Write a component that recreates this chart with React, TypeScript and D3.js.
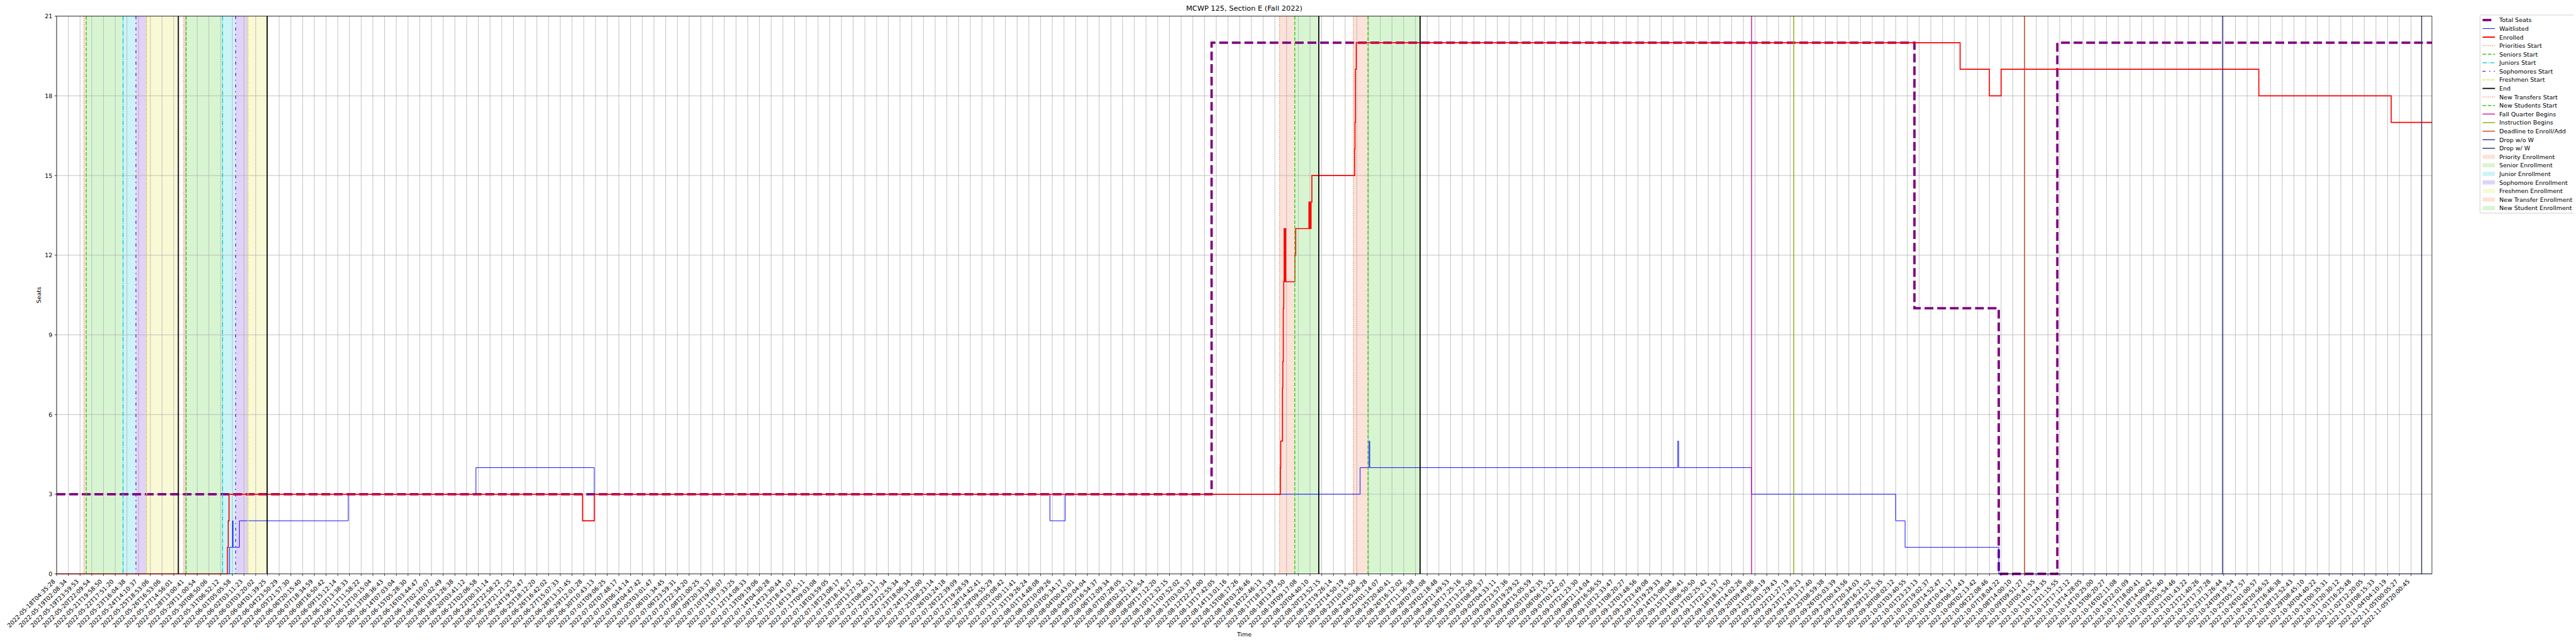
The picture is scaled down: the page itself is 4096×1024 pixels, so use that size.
import React from "react";
import * as d3 from "d3";

// ---------- DATA ----------
const title = "MCWP 125, Section E (Fall 2022)";
const xLabel = "Time";
const yLabel = "Seats";
const yTicks = [0, 3, 6, 9, 12, 15, 18, 21];

const tickLabels = [
  "2022-05-18T04:35:28","2022-05-19T02:08:34","2022-05-19T23:59:53","2022-05-20T22:09:54","2022-05-21T19:58:50",
  "2022-05-22T17:51:20","2022-05-23T16:04:38","2022-05-24T14:10:37","2022-05-25T18:53:06","2022-05-26T16:53:06",
  "2022-05-27T14:56:01","2022-05-28T13:00:41","2022-05-29T11:00:54","2022-05-30T08:50:06","2022-05-31T06:52:12",
  "2022-06-01T05:05:58","2022-06-02T03:11:23","2022-06-03T03:20:02","2022-06-04T01:39:25","2022-06-04T23:50:29",
  "2022-06-05T21:57:30","2022-06-06T20:15:40","2022-06-07T18:34:59","2022-06-08T16:50:42","2022-06-09T15:12:14",
  "2022-06-10T13:38:33","2022-06-11T11:58:22","2022-06-12T10:15:04","2022-06-13T08:36:43","2022-06-14T07:03:04",
  "2022-06-15T05:28:30","2022-06-16T03:44:47","2022-06-17T02:10:07","2022-06-18T01:02:49","2022-06-18T23:26:38",
  "2022-06-20T03:41:12","2022-06-21T02:06:58","2022-06-22T00:31:14","2022-06-22T22:58:22","2022-06-23T21:21:25",
  "2022-06-24T19:52:47","2022-06-25T18:12:20","2022-06-26T16:42:02","2022-06-27T15:07:33","2022-06-28T13:31:45",
  "2022-06-29T12:01:28","2022-06-30T10:43:13","2022-07-01T09:06:25","2022-07-02T07:48:17","2022-07-03T06:14:14",
  "2022-07-04T04:47:42","2022-07-05T03:01:47","2022-07-06T01:34:45","2022-07-06T23:59:31","2022-07-07T22:34:20",
  "2022-07-08T21:00:25","2022-07-09T20:33:37","2022-07-10T19:06:07","2022-07-11T17:33:25","2022-07-12T14:08:33",
  "2022-07-13T09:19:06","2022-07-14T04:30:28","2022-07-14T23:30:44","2022-07-15T18:41:07","2022-07-16T13:45:11",
  "2022-07-17T09:03:08","2022-07-18T03:59:05","2022-07-18T23:08:17","2022-07-19T18:16:27","2022-07-20T13:27:52",
  "2022-07-21T08:40:11","2022-07-22T03:37:34","2022-07-22T22:55:34","2022-07-23T18:06:34","2022-07-24T13:12:00",
  "2022-07-25T08:23:14","2022-07-26T03:24:18","2022-07-26T22:39:09","2022-07-27T19:28:59","2022-07-28T14:42:41",
  "2022-07-29T09:55:29","2022-07-30T05:08:42","2022-07-31T00:11:41","2022-07-31T19:26:24","2022-08-01T14:48:08",
  "2022-08-02T10:09:26","2022-08-03T05:34:17","2022-08-04T00:43:01","2022-08-04T20:04:04","2022-08-05T16:54:37",
  "2022-08-06T12:09:34","2022-08-07T07:28:05","2022-08-08T02:32:13","2022-08-08T21:46:54","2022-08-09T17:12:20",
  "2022-08-10T12:32:15","2022-08-11T07:52:02","2022-08-12T03:03:37","2022-08-12T22:24:00","2022-08-13T17:42:05",
  "2022-08-14T13:01:16","2022-08-15T08:17:26","2022-08-16T03:26:46","2022-08-16T22:46:13","2022-08-17T18:23:39",
  "2022-08-18T13:47:50","2022-08-19T09:17:08","2022-08-20T04:40:10","2022-08-20T23:52:15","2022-08-21T19:26:14",
  "2022-08-22T14:50:19","2022-08-23T10:15:50","2022-08-24T05:58:28","2022-08-25T01:14:07","2022-08-25T20:40:41",
  "2022-08-26T16:12:02","2022-08-27T11:36:38","2022-08-28T07:03:08","2022-08-29T02:18:48","2022-08-29T21:49:53",
  "2022-08-30T17:25:16","2022-08-31T13:22:50","2022-09-01T08:58:37","2022-09-02T04:33:11","2022-09-02T23:57:36",
  "2022-09-03T19:29:52","2022-09-04T15:05:59","2022-09-05T10:42:35","2022-09-06T06:15:22","2022-09-07T01:42:07",
  "2022-09-07T21:23:30","2022-09-08T21:14:04","2022-09-09T16:56:55","2022-09-10T12:33:47","2022-09-11T08:20:27",
  "2022-09-12T03:48:56","2022-09-12T23:49:08","2022-09-13T19:29:33","2022-09-14T15:08:04","2022-09-15T11:06:41",
  "2022-09-16T06:50:50","2022-09-17T02:25:42","2022-09-17T22:13:57","2022-09-18T18:13:50","2022-09-19T14:02:26",
  "2022-09-20T09:49:06","2022-09-21T05:38:19","2022-09-22T01:29:43","2022-09-22T21:27:19","2022-09-23T17:28:23",
  "2022-09-24T13:17:40","2022-09-25T08:59:38","2022-09-26T05:03:39","2022-09-27T00:43:56","2022-09-27T20:34:03",
  "2022-09-28T16:21:52","2022-09-29T12:15:35","2022-09-30T08:02:12","2022-10-01T03:40:55","2022-10-01T23:23:13",
  "2022-10-02T19:02:37","2022-10-03T14:52:47","2022-10-04T10:41:17","2022-10-05T06:34:43","2022-10-06T02:13:42",
  "2022-10-06T22:08:46","2022-10-07T18:04:22","2022-10-08T14:00:10","2022-10-09T09:51:27","2022-10-10T05:41:55",
  "2022-10-11T01:24:35","2022-10-11T21:15:55","2022-10-12T17:12:12","2022-10-13T14:28:05","2022-10-14T10:25:00",
  "2022-10-15T06:20:27","2022-10-16T02:11:08","2022-10-16T22:01:09","2022-10-17T18:00:41","2022-10-18T14:00:42",
  "2022-10-19T09:55:40","2022-10-20T05:54:46","2022-10-21T01:43:22","2022-10-21T21:40:26","2022-10-22T17:37:28",
  "2022-10-23T13:26:44","2022-10-24T09:19:54","2022-10-25T05:17:57","2022-10-26T01:00:57","2022-10-26T20:56:52",
  "2022-10-27T16:46:38","2022-10-28T12:52:43","2022-10-29T08:45:10","2022-10-30T04:40:22","2022-10-31T00:35:31",
  "2022-10-31T20:30:12","2022-11-01T16:25:48","2022-11-02T12:20:05","2022-11-03T08:15:33","2022-11-04T04:10:19",
  "2022-11-05T00:05:27","2022-11-05T20:00:45"
];

// x positions are in tick-index units (tick i sits at i)
const X_MAX = 202.78;

const totalSeats = [[0, 3], [98.6, 20], [158.6, 10], [165.8, 0], [170.8, 20], [X_MAX, 20]];

const waitlisted = [
  [0, 0], [14.75, 1], [15.02, 2], [15.07, 1], [15.6, 2], [24.9, 3], [35.8, 4], [45.9, 3],
  [84.8, 2], [86.1, 3], [111.28, 4], [112.05, 5], [112.1, 4], [138.4, 5], [138.47, 4],
  [144.7, 3], [157.0, 2], [157.8, 1], [165.8, 0], [X_MAX, 0]
];

const enrolled = [
  [0, 0], [14.58, 1], [14.65, 2], [14.72, 3], [44.9, 2], [45.9, 3],
  [104.47, 4], [104.5, 5], [104.65, 7], [104.68, 8], [104.72, 10], [104.76, 11], [104.79, 13],
  [104.82, 11], [104.85, 13], [104.88, 11], [104.9, 13], [104.93, 11], [105.71, 12], [105.78, 13],
  [106.91, 14], [106.94, 13], [106.98, 14], [107.0, 13], [107.09, 14], [107.16, 15],
  [110.81, 16], [110.84, 17], [110.88, 19], [110.95, 20], [162.5, 19], [165.0, 18], [166.0, 19],
  [188.0, 18], [199.3, 17], [X_MAX, 17]
];

const prioritiesStart = [2.33, 10.84];
const seniorsStart = [2.53, 11.06];
const juniorsStart = [5.67, 14.16];
const sophomoresStart = [6.77, 15.28];
const freshmenStart = [7.69, 16.34];
const endTimes = [10.39, 17.97, 107.75, 116.4];
const newTransfersStart = [104.4, 110.7];
const newStudentsStart = [105.7, 111.95];
const fallQuarterBegins = [144.7];
const instructionBegins = [148.3];
const deadlineEnrollAdd = [168.0];
const dropWithoutW = [184.9];
const dropWithW = [201.9];

const legendLabels = [
  "Total Seats", "Waitlisted", "Enrolled", "Priorities Start", "Seniors Start", "Juniors Start",
  "Sophomores Start", "Freshmen Start", "End", "New Transfers Start", "New Students Start",
  "Fall Quarter Begins", "Instruction Begins", "Deadline to Enroll/Add", "Drop w/o W", "Drop w/ W",
  "Priority Enrollment", "Senior Enrollment", "Junior Enrollment", "Sophomore Enrollment",
  "Freshmen Enrollment", "New Transfer Enrollment", "New Student Enrollment"
];

// ---------- STYLE / LAYOUT ----------
const S = 0.682;
const W = 4092, H = 1023;
const FONT = "DejaVu Sans";
const fs = 13.89 * S;
const left = 132 * S, right = 5670 * S, top = 37.7 * S, bottom = 1338 * S;

const C = {
  total: "#800080", wait: "#0000ff", enr: "#ff0000",
  prio: "#f26c3a", senior: "#3ccc1c", junior: "#00c8d7", soph: "#6a1fd6", fresh: "#e0e030",
  end: "#000000", fall: "#cc1a99", instr: "#8faa0d", deadline: "#cc4422", dropNoW: "#33338a", dropW: "#2e3856",
};
const lw = 2.08 * S;
const dash = (...a: number[]) => a.map((v) => v * S).join(" ");
const ev = {
  prio: { c: C.prio, w: 1.8 * S, d: dash(1.7, 2.8) },
  senior: { c: C.senior, w: 2.2 * S, d: dash(8.5, 3.7) },
  junior: { c: C.junior, w: 2.0 * S, d: dash(10.5, 2.6, 1.7, 2.6) },
  soph: { c: C.soph, w: 2.0 * S, d: dash(7, 8.5, 2.5, 8.5) },
  fresh: { c: C.fresh, w: 2.0 * S, d: dash(5, 1.8, 1.6, 1.8) },
  end: { c: C.end, w: 2.6 * S, d: null },
  fall: { c: C.fall, w: lw, d: null },
  instr: { c: C.instr, w: lw, d: null },
  deadline: { c: C.deadline, w: lw, d: null },
  dropNoW: { c: C.dropNoW, w: lw, d: null },
  dropW: { c: C.dropW, w: lw, d: null },
};

export default function App() {
  const x = d3.scaleLinear().domain([0, X_MAX]).range([left, right]);
  const y = d3.scaleLinear().domain([0, 21]).range([bottom, top]);
  const line = d3.line<number[]>().x((d) => x(d[0])).y((d) => y(d[1])).curve(d3.curveStepAfter);

  const spans: [number[], number[], string][] = [
    [prioritiesStart, seniorsStart, C.prio],
    [seniorsStart, juniorsStart, C.senior],
    [juniorsStart, sophomoresStart, C.junior],
    [sophomoresStart, freshmenStart, C.soph],
    [freshmenStart, [endTimes[0], endTimes[1]], C.fresh],
    [newTransfersStart, newStudentsStart, C.prio],
    [newStudentsStart, [endTimes[2], endTimes[3]], C.senior],
  ];

  const vlines: [number[], any][] = [
    [prioritiesStart, ev.prio], [seniorsStart, ev.senior], [juniorsStart, ev.junior],
    [sophomoresStart, ev.soph], [freshmenStart, ev.fresh], [endTimes, ev.end],
    [newTransfersStart, ev.prio], [newStudentsStart, ev.senior], [fallQuarterBegins, ev.fall],
    [instructionBegins, ev.instr], [deadlineEnrollAdd, ev.deadline], [dropWithoutW, ev.dropNoW],
    [dropWithW, ev.dropW],
  ];

  const enrW = 2.4 * S;
  const legendStyles: any[] = [
    { t: "line", c: C.total, w: 5.56 * S, d: dash(20.5, 8.9) },
    { t: "line", c: C.wait, w: 1.39 * S, d: null },
    { t: "line", c: C.enr, w: 2.78 * S, d: null },
    { t: "line", ...ev.prio }, { t: "line", ...ev.senior }, { t: "line", ...ev.junior },
    { t: "line", ...ev.soph }, { t: "line", ...ev.fresh }, { t: "line", ...ev.end },
    { t: "line", ...ev.prio }, { t: "line", ...ev.senior }, { t: "line", ...ev.fall },
    { t: "line", ...ev.instr }, { t: "line", ...ev.deadline }, { t: "line", ...ev.dropNoW },
    { t: "line", ...ev.dropW },
    { t: "patch", c: C.prio }, { t: "patch", c: C.senior }, { t: "patch", c: C.junior },
    { t: "patch", c: C.soph }, { t: "patch", c: C.fresh }, { t: "patch", c: C.prio },
    { t: "patch", c: C.senior },
  ];

  const lgLeft = 5782 * S, lgTop = 35 * S, lgRow = 19.93 * S, lgFirst = 46.7 * S;
  const hx0 = 5788 * S, hx1 = 5817 * S, tx = 5827 * S;

  const tickLen = 4.86 * S;
  const labTopY = bottom + 9.72 * S;
  const thin = 0.8 * 1.389 * S;

  return (
    <svg width={W} height={H} viewBox={`0 0 ${W} ${H}`}
      style={{ position: "absolute", left: 0, top: 0, background: "#fff" }}
      fontFamily={FONT}>
      <rect x={0} y={0} width={W} height={H} fill="#ffffff" />
      {/* spans */}
      {spans.map(([a, b, c], i) =>
        a.map((v, j) => (
          <rect key={`s${i}-${j}`} x={x(v)} y={top} width={x(b[j]) - x(v)} height={bottom - top}
            fill={c} fillOpacity={0.2} />
        ))
      )}
      {/* grid */}
      {tickLabels.map((_, i) => (
        <line key={`gx${i}`} x1={x(i)} x2={x(i)} y1={top} y2={bottom} stroke="#b0b0b0" strokeWidth={thin} />
      ))}
      {yTicks.map((t) => (
        <line key={`gy${t}`} x1={left} x2={right} y1={y(t)} y2={y(t)} stroke="#b0b0b0" strokeWidth={thin} />
      ))}
      {/* series */}
      <path d={line(totalSeats) || ""} fill="none" stroke={C.total} strokeWidth={5.56 * S}
        strokeDasharray={dash(20.5, 8.9)} />
      <path d={line(waitlisted) || ""} fill="none" stroke={C.wait} strokeWidth={1.39 * S} />
      <path d={line(enrolled) || ""} fill="none" stroke={C.enr} strokeWidth={enrW} />
      {/* event lines */}
      {vlines.map(([arr, st], i) =>
        arr.map((v, j) => (
          <line key={`v${i}-${j}`} x1={x(v)} x2={x(v)} y1={top} y2={bottom} stroke={st.c}
            strokeWidth={st.w} strokeDasharray={st.d || undefined} />
        ))
      )}
      {/* frame */}
      <rect x={left} y={top} width={right - left} height={bottom - top} fill="none" stroke="#000" strokeWidth={thin} />
      {/* x ticks */}
      {tickLabels.map((lab, i) => {
        const tx0 = x(i);
        const px = tx0 - 2.3 * S;
        const py = labTopY + 9.1 * S;
        return (
          <g key={`xt${i}`}>
            <line x1={tx0} x2={tx0} y1={bottom} y2={bottom + tickLen} stroke="#000" strokeWidth={thin} />
            <text x={px} y={py} fontSize={fs} textAnchor="end" transform={`rotate(-45 ${px} ${py})`} fill="#000">{lab}</text>
          </g>
        );
      })}
      {/* y ticks */}
      {yTicks.map((t) => (
        <g key={`yt${t}`}>
          <line x1={left - tickLen} x2={left} y1={y(t)} y2={y(t)} stroke="#000" strokeWidth={thin} />
          <text x={left - 9.72 * S} y={y(t)} fontSize={fs} textAnchor="end" dominantBaseline="central" fill="#000">{t}</text>
        </g>
      ))}
      {/* labels */}
      <text x={(left + right) / 2} y={25.5 * S} fontSize={16.67 * S} textAnchor="middle" fill="#000">{title}</text>
      <text x={(left + right) / 2} y={1484 * S} fontSize={fs} textAnchor="middle" fill="#000">{xLabel}</text>
      <text x={95.7 * S} y={(top + bottom) / 2} fontSize={fs} textAnchor="middle" fill="#000"
        transform={`rotate(-90 ${95.7 * S} ${(top + bottom) / 2})`}>{yLabel}</text>
      {/* legend */}
      <rect x={lgLeft} y={lgTop} width={W - lgLeft + 10} height={497 * S - lgTop} rx={3 * S} fill="#fff" fillOpacity={0.8}
        stroke="#cccccc" strokeWidth={1.39 * S} />
      {legendLabels.map((lab, i) => {
        const cy = lgFirst + i * lgRow;
        const st = legendStyles[i];
        return (
          <g key={`lg${i}`}>
            {st.t === "line" ? (
              <line x1={hx0} x2={hx1} y1={cy} y2={cy} stroke={st.c} strokeWidth={st.w} strokeDasharray={st.d || undefined} />
            ) : (
              <rect x={hx0} y={cy - 4.9 * S} width={hx1 - hx0} height={9.7 * S} fill={st.c} fillOpacity={0.2} />
            )}
            <text x={tx} y={cy} fontSize={fs} dominantBaseline="central" fill="#000">{lab}</text>
          </g>
        );
      })}
    </svg>
  );
}
